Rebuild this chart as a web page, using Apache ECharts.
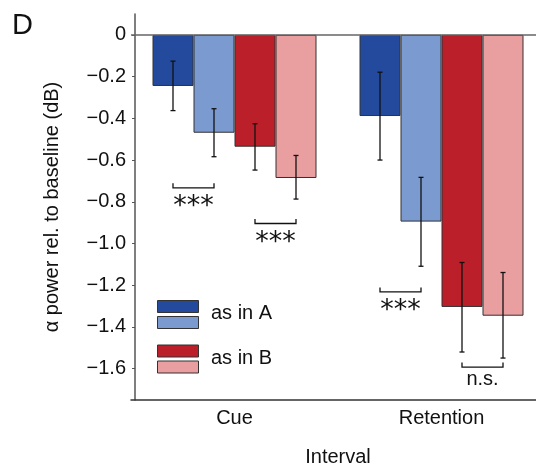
<!DOCTYPE html>
<html>
<head>
<meta charset="utf-8">
<script src="https://cdn.jsdelivr.net/npm/echarts@6/dist/echarts.min.js"></script>
<style>
  html, body { margin: 0; padding: 0; background: #fff; }
  #chart { width: 536px; height: 471px; }
</style>
</head>
<body>
<div id="chart"></div>
<script>
'use strict';

// categories and bar means (dB)
var categories = ['Cue', 'Retention'];
var asA1 = [-0.245, -0.389];
var asA2 = [-0.469, -0.895];
var asB1 = [-0.536, -1.304];
var asB2 = [-0.686, -1.346];

// error bars [low, high] for each category
var errA1 = [[-0.363, -0.126], [-0.600, -0.179]];
var errA2 = [[-0.584, -0.354], [-1.109, -0.683]];
var errB1 = [[-0.648, -0.426], [-1.520, -1.091]];
var errB2 = [[-0.787, -0.578], [-1.549, -1.139]];

// significance brackets: [category, bar a, bar b, y level]
var brackets = [[0, 0, 1, -0.733], [0, 2, 3, -0.904], [1, 0, 1, -1.232], [1, 2, 3, -1.592]];
var bracketLabels = ['***', '***', '***', 'n.s.'];

var yTicks = [0, -0.2, -0.4, -0.6, -0.8, -1.0, -1.2, -1.4, -1.6];

var names = ['as in A (1)', 'as in A (2)', 'as in B (1)', 'as in B (2)'];
var colors = ['#234a9c', '#7b9bd0', '#bb1f2a', '#e99ea0'];
var BAR_W = 41;
var FONT = "'Liberation Sans', Arial, sans-serif";

var chart = echarts.init(document.getElementById('chart'));

function barSeries(i, data) {
    var s = {
        name: names[i],
        type: 'bar',
        data: data,
        barWidth: BAR_W,
        barGap: '0%',
        itemStyle: { color: colors[i], borderColor: '#333', borderWidth: 1 }
    };
    return s;
}

// flatten error bars for the custom series
var errData = [];
[errA1, errA2, errB1, errB2].forEach(function (arr, s) {
    arr.forEach(function (e, c) {
        errData.push([c, s, e[0], e[1]]);
    });
});

var series = [barSeries(0, asA1), barSeries(1, asA2), barSeries(2, asB1), barSeries(3, asB2)];

// zero line
series[0].markLine = {
    silent: true,
    symbol: ['none', 'none'],
    label: { show: false },
    lineStyle: { color: '#666', width: 1.5, type: 'solid' },
    data: [{ yAxis: 0 }]
};

series.push({
    type: 'custom',
    name: 'err',
    data: errData,
    encode: { x: 0, y: [2, 3] },
    z: 5,
    renderItem: function (params, api) {
        var off = (api.value(1) - 1.5) * BAR_W;
        var top = api.coord([api.value(0), api.value(3)]);
        var bot = api.coord([api.value(0), api.value(2)]);
        var x = top[0] + off;
        var st = { stroke: '#111', lineWidth: 1.3 };
        return {
            type: 'group',
            children: [
                { type: 'line', shape: { x1: x, y1: top[1], x2: x, y2: bot[1] }, style: st },
                { type: 'line', shape: { x1: x - 2.5, y1: top[1], x2: x + 2.5, y2: top[1] }, style: st },
                { type: 'line', shape: { x1: x - 2.5, y1: bot[1], x2: x + 2.5, y2: bot[1] }, style: st }
            ]
        };
    }
});

series.push({
    type: 'custom',
    name: 'sig',
    data: brackets,
    encode: { x: 0, y: 3 },
    z: 5,
    renderItem: function (params, api) {
        var c = api.value(0);
        var p = api.coord([c, api.value(3)]);
        var xa = p[0] + (api.value(1) - 1.5) * BAR_W;
        var xb = p[0] + (api.value(2) - 1.5) * BAR_W;
        var lab = bracketLabels[params.dataIndex];
        var stars = lab === '***';
        return {
            type: 'group',
            children: [
                {
                    type: 'polyline',
                    shape: { points: [[xa, p[1] - 4.5], [xa, p[1]], [xb, p[1]], [xb, p[1] - 4.5]] },
                    style: { stroke: '#111', lineWidth: 1.3, fill: null }
                },
                {
                    type: 'text',
                    style: {
                        text: lab,
                        x: (xa + xb) / 2,
                        y: p[1] + (stars ? 6 : 2),
                        align: 'center',
                        verticalAlign: 'top',
                        fill: '#111',
                        font: stars ? "27px 'DejaVu Sans'" : '20px ' + FONT
                    }
                }
            ]
        };
    }
});

function legendFor(data, top) {
    return {
        data: data,
        left: 157,
        top: top,
        orient: 'vertical',
        icon: 'rect',
        itemWidth: 41,
        itemHeight: 12,
        itemGap: 3,
        padding: 0,
        selectedMode: false,
        itemStyle: { borderColor: '#333', borderWidth: 1 },
        formatter: function () { return ''; },
        textStyle: { fontSize: 1, lineHeight: 1 }
    };
}

var option = {
    animation: false,
    textStyle: { fontFamily: FONT },
    grid: { left: 131, top: 14, width: 414, height: 386, outerBoundsMode: 'none' },
    legend: [legendFor([names[0], names[1]], 300), legendFor([names[2], names[3]], 344.5)],
    xAxis: {
        type: 'category',
        data: categories,
        axisLine: { onZero: false, lineStyle: { color: '#333', width: 1.5 } },
        axisTick: { show: false },
        axisLabel: { fontSize: 20, color: '#111', margin: 8 },
        name: 'Interval',
        nameLocation: 'middle',
        nameGap: 47,
        nameTextStyle: { fontSize: 20, color: '#111' }
    },
    yAxis: {
        type: 'value',
        min: -1.75,
        max: 0.1,
        offset: -4,
        axisLine: { show: true, lineStyle: { color: '#555', width: 1.5 } },
        axisTick: { show: true, length: 3, customValues: yTicks, lineStyle: { color: '#555' } },
        axisLabel: {
            customValues: yTicks,
            fontSize: 20,
            color: '#111',
            margin: 9,
            formatter: function (v) {
                return v === 0 ? '0' : '\u2212' + Math.abs(v).toFixed(1);
            }
        },
        splitLine: { show: false },
        name: '\u03b1 power rel. to baseline (dB)',
        nameLocation: 'middle',
        nameGap: 73,
        nameTextStyle: { fontSize: 20, color: '#111' }
    },
    graphic: [
        { type: 'text', left: 12, top: 11, style: { text: 'D', font: '29px ' + FONT, fill: '#111' } },
        { type: 'text', x: 211, y: 313, style: { text: 'as in A', font: '20px ' + FONT, fill: '#111', verticalAlign: 'middle' } },
        { type: 'text', x: 211, y: 358, style: { text: 'as in B', font: '20px ' + FONT, fill: '#111', verticalAlign: 'middle' } }
    ],
    series: series
};

chart.setOption(option);
</script>
</body>
</html>
